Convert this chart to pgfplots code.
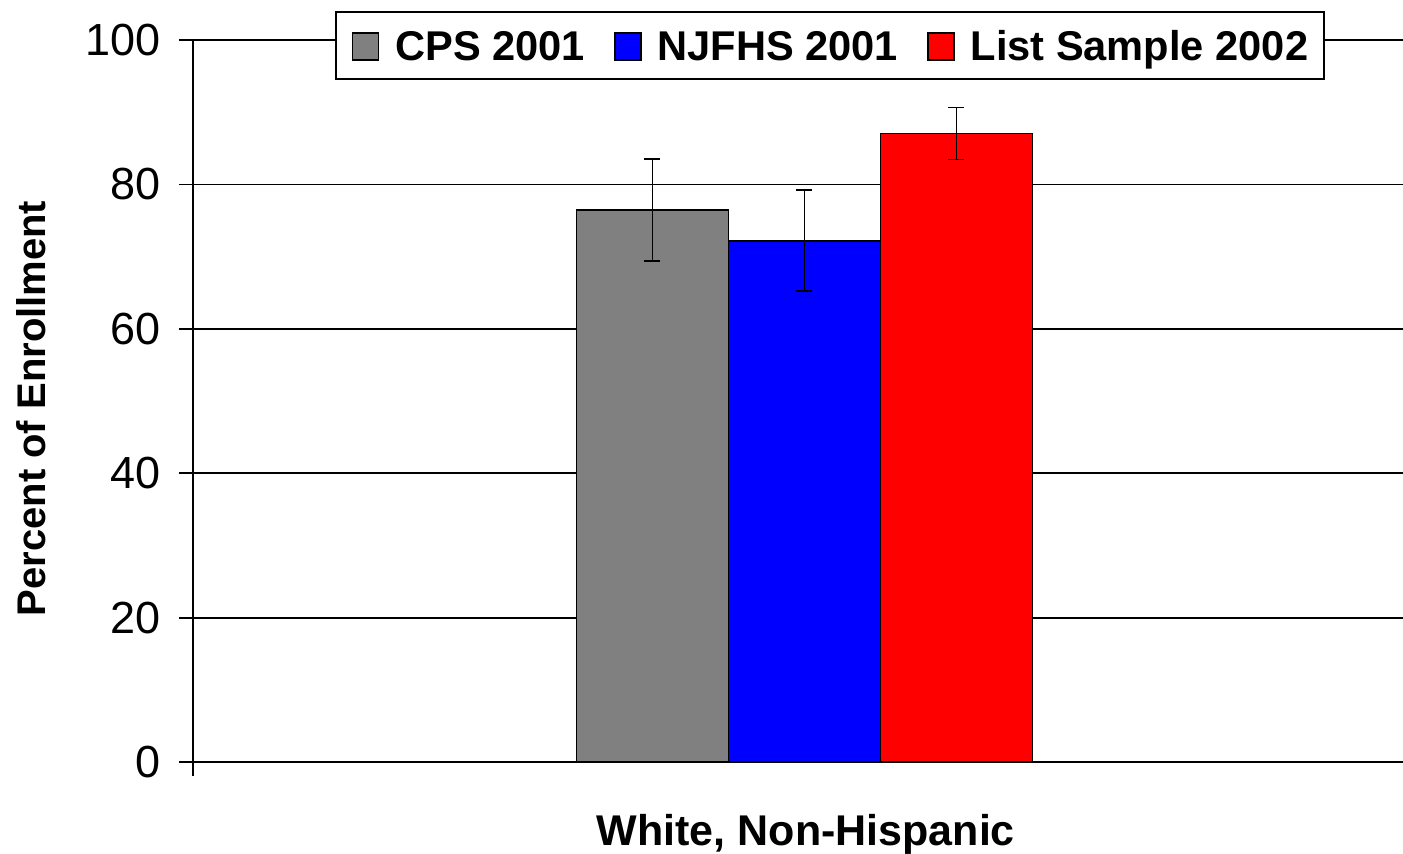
\documentclass[border=0pt]{standalone}
\usepackage{pgfplots}
\pgfplotsset{compat=1.18}
\usepackage{fontspec}
\setmainfont{Liberation Sans}
\definecolor{cgrey}{HTML}{808080}
\definecolor{cblue}{HTML}{0000FF}
\definecolor{cred}{HTML}{FF0000}
\pgfplotsset{
  mybar/.style={ybar, bar width=1, bar shift=0pt, draw=black, line width=0.9pt,
    legend image code/.code={\draw[##1, line width=0.8pt] (0pt,0pt) rectangle (13pt,13.5pt);},
    error bars/y dir=both, error bars/y explicit,
    error bars/error bar style={line width=0.9pt, black},
    error bars/error mark options={rotate=90, mark size=4pt, line width=0.9pt, black}},
}
\begin{document}
\begin{tikzpicture}
\begin{axis}[
  scale only axis, width=605pt, height=361pt,
  xmin=-4.023, xmax=3.938, ymin=0, ymax=100,
  axis x line*=bottom, axis y line*=left,
  axis line style={line width=0.9pt, black},
  ytick={0,20,40,60,80,100},
  xtick={-4.023}, xticklabels={},
  tick align=outside, major tick length=7pt,
  tick style={line width=0.9pt, black},
  ymajorgrids, grid style={line width=0.9pt, black},
  /pgf/number format/assume math mode=true,
  yticklabel style={font=\fontsize{22.5}{27}\selectfont, xshift=-5.5pt},
  xlabel={White, Non-Hispanic},
  ylabel={Percent of Enrollment},
  xlabel style={at={(axis description cs:0.5065,-0.115)}, anchor=base, font=\fontsize{21.5}{25}\selectfont\bfseries},
  ylabel style={at={(axis description cs:-0.1335,0.4896)}, anchor=center, font=\fontsize{20}{24}\selectfont\bfseries},
  legend columns=3,
  legend style={at={(axis description cs:0.5264,1.0402)}, anchor=north,
    draw=black, line width=0.9pt, fill=white, inner xsep=8pt, inner ysep=9pt,
    font=\fontsize{20.8}{24}\selectfont\bfseries,
    /tikz/every odd column/.append style={column sep=8pt},
    /tikz/every even column/.append style={column sep=14.5pt},
    nodes={inner sep=0pt, text depth=0pt, anchor=base west}},
]
\addplot[mybar, fill=cgrey] coordinates {(-1,76.45) +- (0,7.05)};
\addplot[mybar, fill=cblue] coordinates {(0,72.2) +- (0,7.0)};
\addplot[mybar, fill=cred] coordinates {(1,87.05) +- (0,3.6)};
\legend{CPS 2001, NJFHS 2001, List Sample 2002}
\coordinate (sw) at (rel axis cs:0,0);
\coordinate (ne) at (rel axis cs:1,1);
\end{axis}
\pgfresetboundingbox
\path[use as bounding box] ([xshift=-96.5pt,yshift=-45.5pt]sw) rectangle ([yshift=20pt]ne);
\end{tikzpicture}
\end{document}
